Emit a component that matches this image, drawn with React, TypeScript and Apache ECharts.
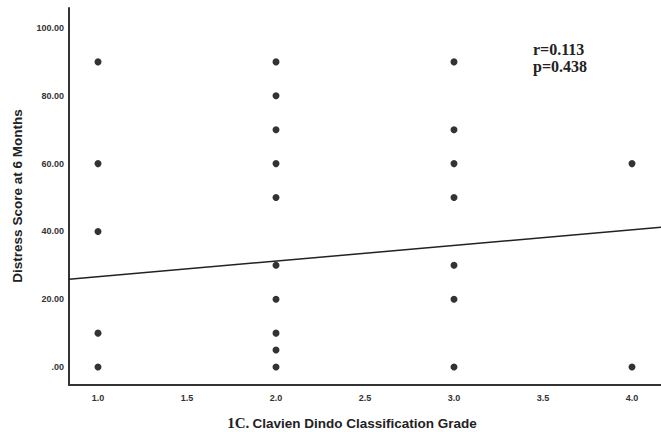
import React, { useEffect, useRef } from "react";
import * as echarts from "echarts";

const grades: number[] = [1, 1, 1, 1, 1, 2, 2, 2, 2, 2, 2, 2, 2, 2, 2, 3, 3, 3, 3, 3, 3, 3, 4, 4];
const distress: number[] = [90, 60, 40, 10, 0, 90, 80, 70, 60, 50, 30, 20, 10, 5, 0, 90, 70, 60, 50, 30, 20, 0, 60, 0];
const fitX: number[] = [0.837, 4.163];
const fitY: number[] = [25.9, 41.2];
const yTicks: number[] = [0, 20, 40, 60, 80, 100];
const xTicks: number[] = [1.0, 1.5, 2.0, 2.5, 3.0, 3.5, 4.0];
const statLines: string[] = ["r=0.113", "p=0.438"];

export default function App() {
  const ref = useRef<HTMLDivElement>(null);
  useEffect(() => {
    document.body.style.margin = "0";
    if (!ref.current) return;
    const chart = echarts.init(ref.current, null, { renderer: "svg" });
    const points = grades.map((g, i) => [g, distress[i]]);
    const fit = fitX.map((x, i) => [x, fitY[i]]);
    chart.setOption({
      animation: false,
      backgroundColor: "#ffffff",
      grid: { left: 69, top: 8, right: 0, bottom: 47 },
      xAxis: {
        type: "value",
        min: 0.837,
        max: 4.163,
        splitLine: { show: false },
        axisTick: { show: false },
        axisLine: { show: true, onZero: false, lineStyle: { color: "#333", width: 2 } },
        axisLabel: {
          customValues: xTicks,
          formatter: (v: number) => v.toFixed(1),
          fontFamily: "Arial",
          fontSize: 9,
          fontWeight: "bold",
          color: "#333",
          margin: 8,
        },
      },
      yAxis: {
        type: "value",
        min: -5.3,
        max: 105.9,
        splitLine: { show: false },
        axisTick: { show: false },
        axisLine: { show: true, onZero: false, lineStyle: { color: "#333", width: 2 } },
        axisLabel: {
          customValues: yTicks,
          formatter: (v: number) => (v === 0 ? ".00" : v.toFixed(2)),
          fontFamily: "Arial",
          fontSize: 9,
          fontWeight: "bold",
          color: "#333",
          margin: 5,
        },
      },
      graphic: [
        {
          type: "text",
          x: 17,
          y: 196,
          rotation: Math.PI / 2,
          style: {
            text: "Distress Score at 6 Months",
            fontFamily: "Arial",
            fontSize: 13.5,
            fontWeight: "bold",
            fill: "#222",
            align: "center",
            verticalAlign: "middle",
          },
        },
        {
          type: "text",
          x: 352,
          y: 423,
          style: {
            text: "{a|1C.} {b|Clavien Dindo Classification Grade}",
            align: "center",
            verticalAlign: "middle",
            rich: {
              a: { fontFamily: "Liberation Serif", fontSize: 15, fontWeight: "bold", fill: "#222" },
              b: { fontFamily: "Arial", fontSize: 13.5, fontWeight: "bold", fill: "#222" },
            },
          },
        },
        {
          type: "text",
          x: 533,
          y: 49,
          style: {
            text: statLines[0],
            fontFamily: "Liberation Serif",
            fontSize: 16,
            fontWeight: "bold",
            fill: "#222",
            align: "left",
            verticalAlign: "middle",
          },
        },
        {
          type: "text",
          x: 533,
          y: 66,
          style: {
            text: statLines[1],
            fontFamily: "Liberation Serif",
            fontSize: 16,
            fontWeight: "bold",
            fill: "#222",
            align: "left",
            verticalAlign: "middle",
          },
        },
      ],
      series: [
        {
          type: "scatter",
          data: points,
          symbol: "circle",
          symbolSize: 7,
          itemStyle: { color: "#000" },
          z: 3,
        },
        {
          type: "line",
          data: fit,
          symbol: "none",
          lineStyle: { color: "#222", width: 1.5 },
          z: 2,
        },
      ],
    });
    return () => chart.dispose();
  }, []);
  return <div ref={ref} style={{ width: 661, height: 432 }} />;
}
